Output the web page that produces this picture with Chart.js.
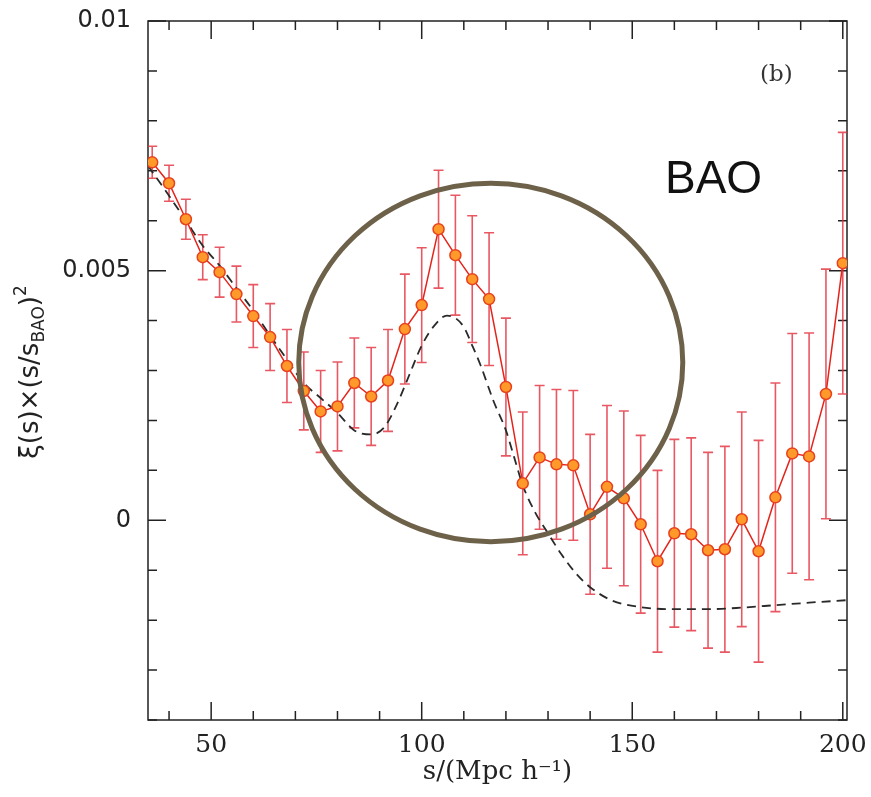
<!DOCTYPE html>
<html>
<head>
<meta charset="utf-8">
<script src="https://cdn.jsdelivr.net/npm/chart.js@4.4.1/dist/chart.umd.min.js"></script>
<style>
  html, body { margin: 0; padding: 0; background: #fff; }
  #wrap { width: 871px; height: 797px; }
</style>
</head>
<body>
<div id="wrap"><canvas id="baoChart" width="871" height="797"></canvas></div>
<script>
// measured correlation function, s in Mpc/h
const separations = [36, 40, 44, 48, 52, 56, 60, 64, 68, 72, 76, 80, 84, 88, 92, 96, 100, 104, 108, 112, 116,
    120, 124, 128, 132, 136, 140, 144, 148, 152, 156, 160, 164, 168, 172, 176, 180, 184, 188, 192, 196, 200];
const xiScaled = [0.00717, 0.00675, 0.00603, 0.00527, 0.00497, 0.00453, 0.00409, 0.00367, 0.00309, 0.00259,
    0.00218, 0.00228, 0.00275, 0.00248, 0.00280, 0.00383, 0.00431, 0.00583, 0.00531, 0.00483, 0.00443,
    0.00267, 0.00074, 0.00126, 0.00112, 0.00110, 0.00012, 0.00067, 0.00044, -0.00008, -0.00082, -0.00026,
    -0.00028, -0.00060, -0.00058, 0.00002, -0.00062, 0.00046, 0.00134, 0.00128, 0.00253, 0.00515];
const xiErrors = [0.00032, 0.00036, 0.00040, 0.00045, 0.00050, 0.00056, 0.00063, 0.00067, 0.00073, 0.00078,
    0.00082, 0.00089, 0.00090, 0.00098, 0.00102, 0.00110, 0.00115, 0.00118, 0.00120, 0.00127, 0.00133,
    0.00138, 0.00143, 0.00144, 0.00150, 0.00150, 0.00160, 0.00163, 0.00175, 0.00178, 0.00182, 0.00188,
    0.00193, 0.00196, 0.00206, 0.00215, 0.00222, 0.00229, 0.00240, 0.00247, 0.00250, 0.00262];

// model curve (dashed)
const modelS = [35, 40, 44, 48, 52, 56, 60, 64, 68, 72, 76, 80, 84, 88, 91, 94, 97, 100, 103, 106, 108, 110,
    112, 114, 117, 120, 122, 124, 127, 130, 133, 137, 140, 145, 152, 160, 168, 176, 184, 192, 201];
const modelXi = [0.0071, 0.0065, 0.0060, 0.0055, 0.0051, 0.00465, 0.0042, 0.0037, 0.00322, 0.00275, 0.00245,
    0.00215, 0.0018, 0.00172, 0.00185, 0.0023, 0.0029, 0.0035, 0.0039, 0.0041, 0.00405, 0.00387, 0.0035,
    0.0031, 0.0024, 0.0018, 0.00125, 0.0007, 0.00015, -0.00026, -0.00066, -0.0011, -0.00134, -0.0016,
    -0.00174, -0.00178, -0.00178, -0.00175, -0.0017, -0.00165, -0.0016];

const xTickValues = [40, 50, 60, 70, 80, 90, 100, 110, 120, 130, 140, 150, 160, 170, 180, 190, 200];
const xLabelled = [50, 100, 150, 200];
const yTickValues = [-0.004, -0.003, -0.002, -0.001, 0, 0.001, 0.002, 0.003, 0.004, 0.005,
    0.006, 0.007, 0.008, 0.009, 0.01];
const yLabelled = [0, 0.005, 0.01];

const axisFrame = {
    id: "axisFrame",
    beforeDatasetsDraw(chart) {
        let ctx = chart.ctx;
        let a = chart.chartArea;
        let x = chart.scales.x;
        let y = chart.scales.y;
        ctx.save();
        ctx.strokeStyle = "#222";
        ctx.lineWidth = 1.5;
        ctx.strokeRect(a.left, a.top, a.right - a.left, a.bottom - a.top);
        ctx.beginPath();
        xTickValues.forEach(v => {
            let px = x.getPixelForValue(v);
            let len = xLabelled.includes(v) ? 18 : 9;
            ctx.moveTo(px, a.bottom);
            ctx.lineTo(px, a.bottom - len);
            ctx.moveTo(px, a.top);
            ctx.lineTo(px, a.top + len);
        });
        yTickValues.forEach(v => {
            let py = y.getPixelForValue(v);
            let len = yLabelled.includes(v) ? 18 : 9;
            ctx.moveTo(a.left, py);
            ctx.lineTo(a.left + len, py);
            ctx.moveTo(a.right, py);
            ctx.lineTo(a.right - len, py);
        });
        ctx.stroke();
        ctx.restore();
    }
};

const errorBars = {
    id: "errorBars",
    beforeDatasetsDraw(chart) {
        let ctx = chart.ctx;
        let x = chart.scales.x;
        let y = chart.scales.y;
        ctx.save();
        ctx.beginPath();
        ctx.rect(chart.chartArea.left, chart.chartArea.top, chart.chartArea.width, chart.chartArea.height);
        ctx.clip();
        ctx.strokeStyle = "rgba(226, 46, 60, 0.8)";
        ctx.lineWidth = 1.6;
        separations.forEach((s, i) => {
            let px = x.getPixelForValue(s);
            let top = y.getPixelForValue(xiScaled[i] + xiErrors[i]);
            let bot = y.getPixelForValue(xiScaled[i] - xiErrors[i]);
            ctx.beginPath();
            ctx.moveTo(px, top);
            ctx.lineTo(px, bot);
            ctx.moveTo(px - 5, top);
            ctx.lineTo(px + 5, top);
            ctx.moveTo(px - 5, bot);
            ctx.lineTo(px + 5, bot);
            ctx.stroke();
        });
        ctx.restore();
    }
};

const annotations = {
    id: "annotations",
    afterDatasetsDraw(chart) {
        let ctx = chart.ctx;
        let a = chart.chartArea;
        let x = chart.scales.x;
        let y = chart.scales.y;
        ctx.save();
        // circle round the acoustic peak
        let cx = x.getPixelForValue(116.4);
        let cy = y.getPixelForValue(0.00316);
        let rx = x.getPixelForValue(116.4 + 45.6) - cx;
        let ry = cy - y.getPixelForValue(0.00316 + 0.00359);
        ctx.strokeStyle = "#6d6149";
        ctx.lineWidth = 5;
        ctx.beginPath();
        ctx.ellipse(cx, cy, rx, ry, 0, 0, Math.PI * 2);
        ctx.stroke();

        ctx.fillStyle = "#111";
        ctx.font = '46px "Liberation Sans", Arial, sans-serif';
        ctx.textBaseline = "alphabetic";
        ctx.textAlign = "left";
        ctx.fillText("BAO", a.left + 517, a.top + 172);

        ctx.fillStyle = "#333";
        ctx.font = '23px "DejaVu Serif", serif';
        ctx.textAlign = "left";
        ctx.fillText("(b)", a.left + 612, a.top + 60);
        ctx.restore();
    },
    afterDraw(chart) {
        let ctx = chart.ctx;
        let parts = [
            { t: "\u03BE(s)\u00D7(s/s", size: 26, dy: 0 },
            { t: "BAO", size: 17, dy: 6 },
            { t: ")", size: 26, dy: 0 },
            { t: "2", size: 17, dy: -12 }
        ];
        ctx.save();
        ctx.translate(38, 372);
        ctx.rotate(-Math.PI / 2);
        ctx.fillStyle = "#222";
        ctx.textBaseline = "alphabetic";
        ctx.textAlign = "left";
        let total = 0;
        parts.forEach(p => {
            ctx.font = p.size + 'px "DejaVu Sans", sans-serif';
            p.w = ctx.measureText(p.t).width;
            total += p.w;
        });
        let pos = -total / 2;
        parts.forEach(p => {
            ctx.font = p.size + 'px "DejaVu Sans", sans-serif';
            ctx.fillText(p.t, pos, p.dy);
            pos += p.w;
        });
        ctx.restore();
    }
};

new Chart(document.getElementById("baoChart"), {
    type: "line",
    data: {
        datasets: [{
            label: "data",
            data: separations.map((s, i) => ({ x: s, y: xiScaled[i] })),
            borderColor: "#e5231b",
            borderWidth: 1.5,
            pointRadius: 5.5,
            pointBackgroundColor: "#ff9a2a",
            pointBorderColor: "#e8411d",
            pointBorderWidth: 1.5,
            tension: 0
        }, {
            label: "model",
            data: modelS.map((s, i) => ({ x: s, y: modelXi[i] })),
            borderColor: "#2a2a2a",
            borderWidth: 1.8,
            borderDash: [9, 6],
            pointRadius: 0,
            cubicInterpolationMode: "monotone"
        }]
    },
    options: {
        responsive: false,
        animation: false,
        devicePixelRatio: 1,
        layout: { padding: { top: 21, right: 24, left: 0, bottom: 0 } },
        plugins: { legend: { display: false }, tooltip: { enabled: false } },
        scales: {
            x: {
                type: "linear",
                min: 35,
                max: 201,
                afterBuildTicks: scale => { scale.ticks = xTickValues.map(v => ({ value: v })); },
                afterFit: scale => { scale.height = 77; scale.paddingLeft = 0; scale.paddingRight = 0; },
                grid: { display: false, drawTicks: false },
                border: { display: false },
                ticks: {
                    autoSkip: false,
                    maxRotation: 0,
                    padding: 10,
                    color: "#222",
                    font: { family: "'DejaVu Serif', serif", size: 25 },
                    callback: v => xLabelled.includes(v) ? String(v) : ""
                },
                title: {
                    display: true,
                    text: "s/(Mpc h\u207B\u00B9)",
                    color: "#222",
                    font: { family: "'DejaVu Serif', serif", size: 26 },
                    padding: { top: 0, bottom: 9 }
                }
            },
            y: {
                type: "linear",
                min: -0.004,
                max: 0.01,
                afterBuildTicks: scale => { scale.ticks = yTickValues.map(v => ({ value: v })); },
                afterFit: scale => { scale.width = 148; scale.paddingTop = 0; scale.paddingBottom = 0; },
                grid: { display: false, drawTicks: false },
                border: { display: false },
                ticks: {
                    autoSkip: false,
                    padding: 17,
                    color: "#222",
                    font: { family: "'DejaVu Sans', sans-serif", size: 24 },
                    callback: v => yLabelled.includes(v) ? String(v) : ""
                }
            }
        }
    },
    plugins: [axisFrame, errorBars, annotations]
});
</script>
</body>
</html>
